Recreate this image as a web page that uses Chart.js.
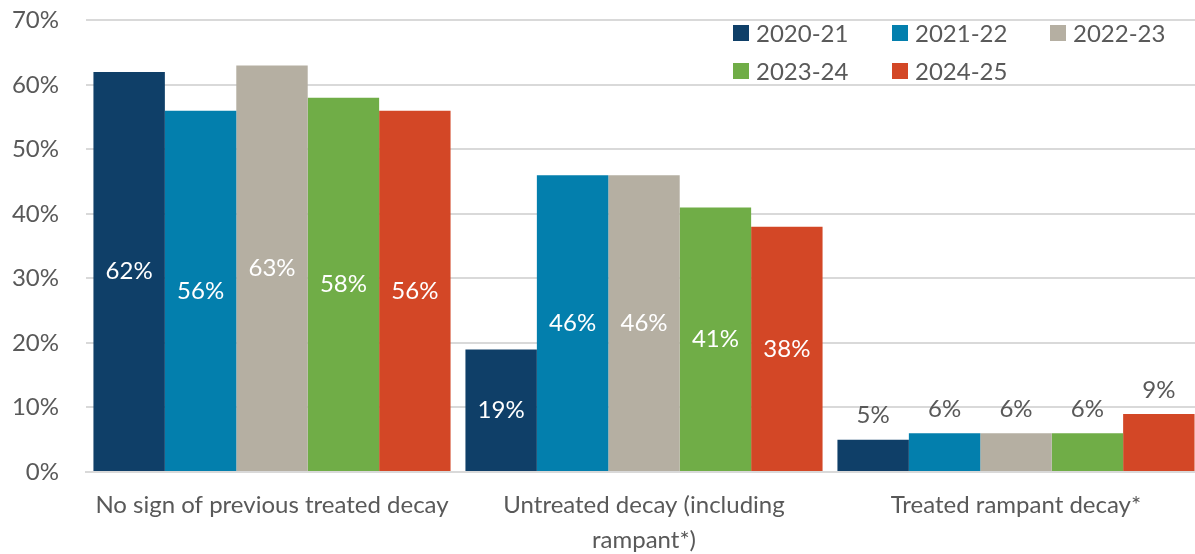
<!DOCTYPE html>
<html>
<head>
<meta charset="utf-8">
<script src="https://cdn.jsdelivr.net/npm/chart.js@4.4.1/dist/chart.umd.min.js"></script>
<style>
  html, body { margin: 0; padding: 0; background: #fff; overflow: hidden; }
  #wrap { position: relative; width: 1202px; height: 575px; margin-top: -21px; }
</style>
</head>
<body>
<div id="wrap"><canvas id="chart" width="1202" height="575"></canvas></div>
<script>
'use strict';

// ── Data ─────────────────────────────────────────────
const categories = [
  'No sign of previous treated decay',
  ['Untreated decay (including', 'rampant*)'],
  'Treated rampant decay*',
];
const years = ['2020-21', '2021-22', '2022-23', '2023-24', '2024-25'];
const v2020 = [62, 19, 5];
const v2021 = [56, 46, 6];
const v2022 = [63, 46, 6];
const v2023 = [58, 41, 6];
const v2024 = [56, 38, 9];
const colors = ['#0f3f68', '#037fad', '#b5afa2', '#70ad47', '#d34726'];
const yTicks = [0, 10, 20, 30, 40, 50, 60, 70];

const FONT = 'Lato, "Open Sans", sans-serif';
const TEXT = '#595959';

const series = [v2020, v2021, v2022, v2023, v2024];

// ── Value labels (inside for tall bars, above for short ones) ──
const valueLabels = {
  id: 'valueLabels',
  afterDatasetsDraw(chart) {
    const ctx = chart.ctx;
    ctx.save();
    ctx.font = '24px ' + FONT;
    ctx.textAlign = 'center';
    ctx.textBaseline = 'middle';
    chart.data.datasets.forEach((ds, i) => {
      chart.getDatasetMeta(i).data.forEach((bar, j) => {
        const v = ds.data[j];
        if (v >= 10) {
          ctx.fillStyle = '#ffffff';
          ctx.fillText(v + '%', bar.x, (bar.y + bar.base) / 2);
        } else {
          ctx.fillStyle = TEXT;
          ctx.fillText(v + '%', bar.x, bar.y - 24);
        }
      });
    });
    ctx.restore();
  },
};

// ── Legend in two rows, top right inside the plot ──
const gridLegend = {
  id: 'gridLegend',
  afterDraw(chart) {
    const ctx = chart.ctx;
    const colX = [733, 892, 1050];
    const rowY = [54, 92];   // canvas is shifted up by 21px
    ctx.save();
    ctx.font = '24px ' + FONT;
    ctx.textBaseline = 'middle';
    ctx.textAlign = 'left';
    chart.data.datasets.forEach((ds, i) => {
      const x = colX[i % 3];
      const y = rowY[Math.floor(i / 3)];
      ctx.fillStyle = ds.backgroundColor;
      ctx.fillRect(x, y - 8, 16, 16);
      ctx.fillStyle = TEXT;
      ctx.fillText(ds.label, x + 23, y + 1);
    });
    ctx.restore();
  },
};

new Chart(document.getElementById('chart'), {
  type: 'bar',
  data: {
    labels: categories,
    datasets: years.map((y, i) => ({
      label: y,
      data: series[i],
      backgroundColor: colors[i],
      borderWidth: 0,
      categoryPercentage: 0.96,
      barPercentage: 1,
    })),
  },
  options: {
    responsive: false,
    animation: false,
    devicePixelRatio: 1,
    layout: { padding: { top: 8, left: 0, right: 0, bottom: 0 } },
    plugins: { legend: { display: false }, tooltip: { enabled: false } },
    scales: {
      x: {
        grid: { display: false },
        border: { display: true, color: '#d9d9d9', width: 2 },
        ticks: {
          color: TEXT,
          font: { family: FONT, size: 24, lineHeight: 1.45 },
          padding: 8,
          maxRotation: 0,
          autoSkip: false,
        },
        afterFit: s => { s.height = 82; },
      },
      y: {
        min: 0,
        max: 70,
        afterBuildTicks: s => { s.ticks = yTicks.map(v => ({ value: v })); },
        grid: { color: '#d9d9d9', lineWidth: 2, drawTicks: false },
        border: { display: false },
        ticks: {
          color: TEXT,
          font: { family: FONT, size: 24 },
          padding: 27,
          callback: v => v + '%',
        },
        afterFit: s => { s.width = 86; },
      },
    },
  },
  plugins: [valueLabels, gridLegend],
});
</script>
</body>
</html>
